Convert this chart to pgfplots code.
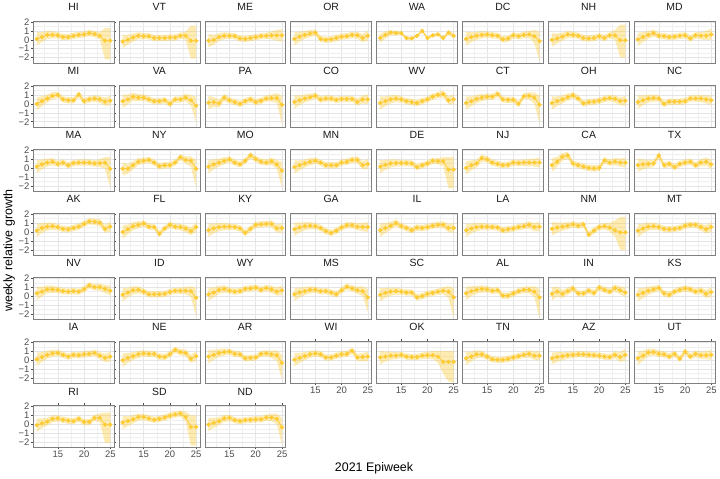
\documentclass[border=0pt]{standalone}
\usepackage{fontspec}
\setmainfont{Liberation Sans}
\usepackage{pgfplots}
\usepackage{pgfplotstable}
\pgfplotsset{compat=1.18}
\usepgfplotslibrary{fillbetween}
\definecolor{gold}{HTML}{FDCB34}
\pgfplotsset{
 panel/.style={scale only axis, width=81bp, height=42bp, anchor=north west,
  xmin=10.3, xmax=25.7, ymin=-2.6, ymax=2.1,
  xtick={15,20,25}, ytick={-2,-1,0,1,2},
  minor xtick={12.5,17.5,22.5}, minor ytick={-1.5,-0.5,0.5,1.5},
  xticklabels={}, yticklabels={},
  grid=both,
  major grid style={draw=black!10, line width=0.5bp},
  minor grid style={draw=black!6, line width=0.3bp},
  axis line style={draw=black!50, line width=0.6bp},
  tick align=outside, major tick length=2bp, minor tick length=0pt,
  xtick style={draw=none}, ytick style={draw=none},
  title style={at={(0.5,1)}, anchor=base, yshift=4.5bp, font=\fontsize{10.5}{11}\selectfont, text=black!90},
  tick label style={font=\fontsize{9.5}{9.5}\selectfont, text=black!70},
  yticklabel style={inner sep=1.5bp},
  xticklabel style={inner sep=1.5bp},
  clip=true},
 xl/.style={xticklabels={15,20,25}, xtick style={draw=black!70, line width=0.5bp}},
 yl/.style={yticklabels={−2,−1,0,1,2}, ytick style={draw=black!70, line width=0.5bp}},
}
\newcommand{\panel}[5]{%
 \pgfmathsetmacro\px{32+86*#1}\pgfmathsetmacro\py{458-64.17*#2}%
 \begin{axis}[panel, at={(\px bp,\py bp)}, title={#3}, #5]
  \addplot[name path=L, draw=none, forget plot] table[x=x,y=lo]{#4};
  \addplot[name path=H, draw=none, forget plot] table[x=x,y=hi]{#4};
  \addplot[fill=gold, fill opacity=0.38, draw=none] fill between[of=H and L];
  \addplot[color=gold, line width=0.8bp, mark=*, mark size=1.7bp, mark options={fill=gold, draw=gold}] table[x=x,y=y]{#4};
 \end{axis}}
% ---------------- data: x, mean, lower, upper ----------------
\pgfplotstableread[row sep=\\]{x y lo hi\\11 0.1 -0.65 0.85\\12 0.3 -0.25 0.85\\13 0.55 0.1 1.0\\14 0.55 0.15 0.95\\15 0.5 0.15 0.85\\16 0.3 -0.05 0.65\\17 0.3 -0.05 0.65\\18 0.45 0.1 0.8\\19 0.55 0.2 0.9\\20 0.6 0.25 0.95\\21 0.75 0.4 1.1\\22 0.65 0.3 1.0\\23 0.45 0.05 0.85\\24 -0.1 -2.2 1.3\\25 -0.1 -2.2 1.3\\}\tHI
\pgfplotstableread[row sep=\\]{x y lo hi\\11 -0.2 -0.95 0.55\\12 0 -0.55 0.55\\13 0.25 -0.2 0.7\\14 0.45 0.05 0.85\\15 0.4 0.05 0.75\\16 0.4 0.05 0.75\\17 0.2 -0.15 0.55\\18 0.2 -0.15 0.55\\19 0.2 -0.15 0.55\\20 0.25 -0.1 0.6\\21 0.25 -0.1 0.6\\22 0.45 0.1 0.8\\23 0.45 0.0 0.9\\24 -0.1 -2.1 1.6\\25 -0.1 -2.1 1.6\\}\tVT
\pgfplotstableread[row sep=\\]{x y lo hi\\11 -0.1 -0.85 0.65\\12 0 -0.55 0.55\\13 0.3 -0.15 0.75\\14 0.45 0.05 0.85\\15 0.45 0.1 0.8\\16 0.4 0.05 0.75\\17 0.15 -0.2 0.5\\18 0.1 -0.25 0.45\\19 0.2 -0.15 0.55\\20 0.3 -0.05 0.65\\21 0.4 0.05 0.75\\22 0.45 0.1 0.8\\23 0.5 0.05 0.95\\24 0.5 -0.1 1.1\\25 0.5 -0.2 1.2\\}\tME
\pgfplotstableread[row sep=\\]{x y lo hi\\11 0.1 -0.65 0.85\\12 0.35 -0.2 0.9\\13 0.55 0.1 1.0\\14 0.7 0.3 1.1\\15 0.8 0.45 1.15\\16 0.1 -0.25 0.45\\17 0.0 -0.35 0.35\\18 0.05 -0.3 0.4\\19 0.2 -0.15 0.55\\20 0.35 0.0 0.7\\21 0.4 0.05 0.75\\22 0.55 0.2 0.9\\23 0.5 0.1 0.9\\24 0.2 -0.25 0.65\\25 0.45 -0.1 1.0\\}\tOR
\pgfplotstableread[row sep=\\]{x y lo hi\\11 0.2 -0.3 0.7\\12 0.55 0.15 0.95\\13 0.8 0.5 1.1\\14 0.75 0.5 1.0\\15 0.75 0.55 0.95\\16 0.2 0.0 0.4\\17 0.15 -0.05 0.35\\18 0.45 0.25 0.65\\19 1.0 0.8 1.2\\20 0.2 0.0 0.4\\21 0.5 0.3 0.7\\22 0.6 0.4 0.8\\23 0.2 0.0 0.4\\24 0.8 0.55 1.05\\25 0.45 0.15 0.75\\}\tWA
\pgfplotstableread[row sep=\\]{x y lo hi\\11 0.1 -0.65 0.85\\12 0.3 -0.25 0.85\\13 0.45 0.0 0.9\\14 0.55 0.15 0.95\\15 0.6 0.25 0.95\\16 0.5 0.15 0.85\\17 0.45 0.1 0.8\\18 0.05 -0.3 0.4\\19 0.15 -0.2 0.5\\20 0.5 0.15 0.85\\21 0.4 0.05 0.75\\22 0.55 0.2 0.9\\23 0.6 0.2 1.0\\24 0.4 -0.4 1.1\\25 -0.15 -2.4 0.9\\}\tDC
\pgfplotstableread[row sep=\\]{x y lo hi\\11 0 -0.75 0.75\\12 0.15 -0.4 0.7\\13 0.35 -0.1 0.8\\14 0.6 0.2 1.0\\15 0.55 0.2 0.9\\16 0.45 0.1 0.8\\17 0.2 -0.15 0.55\\18 0.15 -0.2 0.5\\19 0.2 -0.15 0.55\\20 0.4 0.05 0.75\\21 0.2 -0.15 0.55\\22 0.5 0.15 0.85\\23 0.5 0.0 1.1\\24 -0.05 -2.0 1.7\\25 -0.05 -2.0 1.7\\}\tNH
\pgfplotstableread[row sep=\\]{x y lo hi\\11 0.05 -0.7 0.8\\12 0.3 -0.25 0.85\\13 0.55 0.1 1.0\\14 0.75 0.35 1.15\\15 0.45 0.1 0.8\\16 0.4 0.05 0.75\\17 0.3 -0.05 0.65\\18 0.35 0.0 0.7\\19 0.45 0.1 0.8\\20 0.5 0.15 0.85\\21 0.15 -0.2 0.5\\22 0.5 0.15 0.85\\23 0.45 0.05 0.85\\24 0.45 -0.05 1.0\\25 0.6 0.0 1.25\\}\tMD
\pgfplotstableread[row sep=\\]{x y lo hi\\11 0 -0.75 0.75\\12 0.3 -0.25 0.85\\13 0.6 0.15 1.05\\14 0.9 0.5 1.3\\15 1.0 0.65 1.35\\16 0.5 0.15 0.85\\17 0.4 0.05 0.75\\18 0.4 0.05 0.75\\19 1.05 0.7 1.4\\20 0.3 -0.05 0.65\\21 0.5 0.15 0.85\\22 0.6 0.25 0.95\\23 0.5 0.1 0.9\\24 0.25 -0.2 0.7\\25 0.35 -0.2 0.9\\}\tMI
\pgfplotstableread[row sep=\\]{x y lo hi\\11 0.3 -0.45 1.05\\12 0.5 -0.05 1.05\\13 0.8 0.35 1.25\\14 0.7 0.3 1.1\\15 0.7 0.35 1.05\\16 0.5 0.15 0.85\\17 0.3 -0.05 0.65\\18 0.3 -0.05 0.65\\19 0.4 0.05 0.75\\20 0.0 -0.35 0.35\\21 0.5 0.15 0.85\\22 0.5 0.15 0.85\\23 0.7 0.3 1.1\\24 0.4 -0.2 1.0\\25 -0.2 -2.1 0.8\\}\tVA
\pgfplotstableread[row sep=\\]{x y lo hi\\11 0.15 -0.6 0.9\\12 0.2 -0.35 0.75\\13 0.05 -0.4 0.5\\14 0.7 0.3 1.1\\15 0.4 0.05 0.75\\16 0.2 -0.15 0.55\\17 0.0 -0.35 0.35\\18 0.3 -0.05 0.65\\19 0.5 0.15 0.85\\20 0.2 -0.15 0.55\\21 0.35 0.0 0.7\\22 0.6 0.25 0.95\\23 0.65 0.25 1.05\\24 0.65 0.1 1.2\\25 -0.1 -2.3 0.9\\}\tPA
\pgfplotstableread[row sep=\\]{x y lo hi\\11 0.2 -0.55 0.95\\12 0.4 -0.15 0.95\\13 0.6 0.15 1.05\\14 0.75 0.35 1.15\\15 0.9 0.55 1.25\\16 0.5 0.15 0.85\\17 0.6 0.25 0.95\\18 0.6 0.25 0.95\\19 0.45 0.1 0.8\\20 0.55 0.2 0.9\\21 0.55 0.2 0.9\\22 0.55 0.2 0.9\\23 0.2 -0.2 0.6\\24 0.5 0.05 0.95\\25 0.5 -0.05 1.05\\}\tCO
\pgfplotstableread[row sep=\\]{x y lo hi\\11 0.1 -0.65 0.85\\12 0.3 -0.25 0.85\\13 0.5 0.05 0.95\\14 0.6 0.2 1.0\\15 0.5 0.15 0.85\\16 0.3 -0.05 0.65\\17 0.2 -0.15 0.55\\18 0.1 -0.25 0.45\\19 0.3 -0.05 0.65\\20 0.5 0.15 0.85\\21 0.8 0.45 1.15\\22 1.0 0.65 1.35\\23 1.1 0.7 1.5\\24 0.4 -0.05 0.85\\25 0.5 -0.05 1.05\\}\tWV
\pgfplotstableread[row sep=\\]{x y lo hi\\11 0.1 -0.65 0.85\\12 0.3 -0.25 0.85\\13 0.55 0.1 1.0\\14 0.7 0.3 1.1\\15 0.8 0.45 1.15\\16 0.8 0.45 1.15\\17 1.1 0.75 1.45\\18 0.5 0.15 0.85\\19 0.45 0.1 0.8\\20 0.45 0.1 0.8\\21 0.0 -0.35 0.35\\22 0.85 0.5 1.2\\23 0.9 0.5 1.3\\24 0.7 0.0 1.3\\25 -0.1 -2.2 0.9\\}\tCT
\pgfplotstableread[row sep=\\]{x y lo hi\\11 0.1 -0.65 0.85\\12 0.3 -0.25 0.85\\13 0.5 0.05 0.95\\14 0.75 0.35 1.15\\15 0.95 0.6 1.3\\16 0.6 0.25 0.95\\17 0.05 -0.3 0.4\\18 0.2 -0.15 0.55\\19 0.25 -0.1 0.6\\20 0.35 0.0 0.7\\21 0.55 0.2 0.9\\22 0.65 0.3 1.0\\23 0.55 0.15 0.95\\24 0.3 -0.15 0.75\\25 0.35 -0.2 0.9\\}\tOH
\pgfplotstableread[row sep=\\]{x y lo hi\\11 0.2 -0.55 0.95\\12 0.4 -0.15 0.95\\13 0.6 0.15 1.05\\14 0.65 0.25 1.05\\15 0.6 0.25 0.95\\16 0.0 -0.35 0.35\\17 0.25 -0.1 0.6\\18 0.25 -0.1 0.6\\19 0.25 -0.1 0.6\\20 0.3 -0.05 0.65\\21 0.6 0.25 0.95\\22 0.6 0.25 0.95\\23 0.6 0.2 1.0\\24 0.5 0.05 0.95\\25 0.4 -0.15 0.95\\}\tNC
\pgfplotstableread[row sep=\\]{x y lo hi\\11 0.15 -0.6 0.9\\12 0.4 -0.15 0.95\\13 0.6 0.15 1.05\\14 0.7 0.3 1.1\\15 0.45 0.1 0.8\\16 0.6 0.25 0.95\\17 0.3 -0.05 0.65\\18 0.55 0.2 0.9\\19 0.6 0.25 0.95\\20 0.6 0.25 0.95\\21 0.6 0.25 0.95\\22 0.5 0.15 0.85\\23 0.55 0.1 1.0\\24 0.6 -0.1 1.2\\25 -0.1 -2.2 1.2\\}\tMA
\pgfplotstableread[row sep=\\]{x y lo hi\\11 -0.1 -0.85 0.65\\12 -0.1 -0.65 0.45\\13 0.3 -0.15 0.75\\14 0.7 0.3 1.1\\15 0.8 0.45 1.15\\16 0.9 0.55 1.25\\17 0.6 0.25 0.95\\18 0.2 -0.15 0.55\\19 0.3 -0.05 0.65\\20 0.3 -0.05 0.65\\21 0.6 0.25 0.95\\22 1.2 0.85 1.55\\23 0.9 0.5 1.3\\24 0.8 0.1 1.3\\25 -0.1 -2.2 0.9\\}\tNY
\pgfplotstableread[row sep=\\]{x y lo hi\\11 0.15 -0.6 0.9\\12 0.4 -0.15 0.95\\13 0.6 0.15 1.05\\14 0.8 0.4 1.2\\15 0.95 0.6 1.3\\16 0.6 0.25 0.95\\17 0.4 0.05 0.75\\18 0.8 0.45 1.15\\19 1.4 1.05 1.75\\20 1.0 0.65 1.35\\21 0.7 0.35 1.05\\22 0.6 0.25 0.95\\23 0.75 0.35 1.15\\24 0.4 -0.1 0.9\\25 -0.3 -2.2 0.7\\}\tMO
\pgfplotstableread[row sep=\\]{x y lo hi\\11 0.1 -0.65 0.85\\12 0.3 -0.25 0.85\\13 0.5 0.05 0.95\\14 0.7 0.3 1.1\\15 0.8 0.45 1.15\\16 0.6 0.25 0.95\\17 0.3 -0.05 0.65\\18 0.3 -0.05 0.65\\19 0.3 -0.05 0.65\\20 0.6 0.25 0.95\\21 0.7 0.35 1.05\\22 0.9 0.55 1.25\\23 0.9 0.5 1.3\\24 0.3 -0.15 0.75\\25 0.45 -0.1 1.0\\}\tMN
\pgfplotstableread[row sep=\\]{x y lo hi\\11 0.15 -0.6 0.9\\12 0.35 -0.2 0.9\\13 0.5 0.05 0.95\\14 0.55 0.15 0.95\\15 0.55 0.2 0.9\\16 0.55 0.2 0.9\\17 0.5 0.15 0.85\\18 0.1 -0.25 0.45\\19 0.3 -0.05 0.65\\20 0.5 0.15 0.85\\21 0.8 0.45 1.15\\22 0.75 0.4 1.1\\23 0.75 0.2 1.2\\24 -0.2 -2.3 1.2\\25 -0.2 -2.3 1.2\\}\tDE
\pgfplotstableread[row sep=\\]{x y lo hi\\11 0.0 -0.75 0.75\\12 0.3 -0.25 0.85\\13 0.5 0.05 0.95\\14 1.1 0.7 1.5\\15 0.95 0.6 1.3\\16 0.6 0.25 0.95\\17 0.45 0.1 0.8\\18 0.3 -0.05 0.65\\19 0.35 0.0 0.7\\20 0.6 0.25 0.95\\21 0.55 0.2 0.9\\22 0.6 0.25 0.95\\23 0.6 0.2 1.0\\24 0.6 0.15 1.05\\25 0.6 0.05 1.15\\}\tNJ
\pgfplotstableread[row sep=\\]{x y lo hi\\11 0.3 -0.45 1.05\\12 0.7 0.15 1.25\\13 1.25 0.8 1.7\\14 1.4 1.0 1.8\\15 0.5 0.15 0.85\\16 0.3 -0.05 0.65\\17 0.15 -0.2 0.5\\18 0.0 -0.35 0.35\\19 -0.05 -0.4 0.3\\20 0.0 -0.35 0.35\\21 0.85 0.5 1.2\\22 0.6 0.25 0.95\\23 0.7 0.3 1.1\\24 0.6 0.15 1.05\\25 0.6 0.05 1.15\\}\tCA
\pgfplotstableread[row sep=\\]{x y lo hi\\11 0.3 -0.45 1.05\\12 0.4 -0.15 0.95\\13 0.45 0.0 0.9\\14 0.5 0.1 0.9\\15 1.4 1.05 1.75\\16 0.3 -0.05 0.65\\17 0.45 0.1 0.8\\18 0.1 -0.25 0.45\\19 0.45 0.1 0.8\\20 0.6 0.25 0.95\\21 0.7 0.35 1.05\\22 0.3 -0.05 0.65\\23 0.6 0.2 1.0\\24 0.7 0.25 1.15\\25 0.4 -0.15 0.95\\}\tTX
\pgfplotstableread[row sep=\\]{x y lo hi\\11 0.15 -0.6 0.9\\12 0.45 -0.1 1.0\\13 0.6 0.15 1.05\\14 0.65 0.25 1.05\\15 0.55 0.2 0.9\\16 0.35 0.0 0.7\\17 0.3 -0.05 0.65\\18 0.45 0.1 0.8\\19 0.6 0.25 0.95\\20 0.9 0.55 1.25\\21 1.2 0.85 1.55\\22 1.15 0.8 1.5\\23 1.05 0.65 1.45\\24 0.35 -0.1 0.8\\25 0.6 0.05 1.15\\}\tAK
\pgfplotstableread[row sep=\\]{x y lo hi\\11 0.0 -0.75 0.75\\12 0.3 -0.25 0.85\\13 0.65 0.2 1.1\\14 0.8 0.4 1.2\\15 0.95 0.6 1.3\\16 0.6 0.25 0.95\\17 0.55 0.2 0.9\\18 -0.2 -0.55 0.15\\19 0.4 0.05 0.75\\20 0.8 0.45 1.15\\21 0.6 0.25 0.95\\22 0.55 0.2 0.9\\23 0.4 0.0 0.8\\24 0.1 -0.35 0.55\\25 0.55 0.0 1.1\\}\tFL
\pgfplotstableread[row sep=\\]{x y lo hi\\11 0.2 -0.55 0.95\\12 0.4 -0.15 0.95\\13 0.55 0.1 1.0\\14 0.6 0.2 1.0\\15 0.6 0.25 0.95\\16 0.55 0.2 0.9\\17 0.4 0.05 0.75\\18 -0.1 -0.45 0.25\\19 0.35 0.0 0.7\\20 0.8 0.45 1.15\\21 0.85 0.5 1.2\\22 0.9 0.55 1.25\\23 0.9 0.5 1.3\\24 0.4 -0.05 0.85\\25 0.45 -0.1 1.0\\}\tKY
\pgfplotstableread[row sep=\\]{x y lo hi\\11 0.3 -0.45 1.05\\12 0.5 -0.05 1.05\\13 0.65 0.2 1.1\\14 0.7 0.3 1.1\\15 0.65 0.3 1.0\\16 0.45 0.1 0.8\\17 0.1 -0.25 0.45\\18 -0.1 -0.45 0.25\\19 0.15 -0.2 0.5\\20 0.5 0.15 0.85\\21 0.75 0.4 1.1\\22 0.75 0.4 1.1\\23 0.6 0.2 1.0\\24 0.55 0.1 1.0\\25 0.55 0.0 1.1\\}\tGA
\pgfplotstableread[row sep=\\]{x y lo hi\\11 0.2 -0.55 0.95\\12 0.45 -0.1 1.0\\13 0.7 0.25 1.15\\14 1.0 0.6 1.4\\15 0.65 0.3 1.0\\16 0.45 0.1 0.8\\17 0.2 -0.15 0.55\\18 0.5 0.15 0.85\\19 0.45 0.1 0.8\\20 0.55 0.2 0.9\\21 0.7 0.35 1.05\\22 0.8 0.45 1.15\\23 0.8 0.4 1.2\\24 0.45 0.0 0.9\\25 0.45 -0.1 1.0\\}\tIL
\pgfplotstableread[row sep=\\]{x y lo hi\\11 0.2 -0.55 0.95\\12 0.4 -0.15 0.95\\13 0.55 0.1 1.0\\14 0.6 0.2 1.0\\15 0.6 0.25 0.95\\16 0.55 0.2 0.9\\17 0.5 0.15 0.85\\18 0.2 -0.15 0.55\\19 0.3 -0.05 0.65\\20 0.4 0.05 0.75\\21 0.55 0.2 0.9\\22 0.65 0.3 1.0\\23 0.8 0.4 1.2\\24 0.55 0.1 1.0\\25 0.6 0.05 1.15\\}\tLA
\pgfplotstableread[row sep=\\]{x y lo hi\\11 0.35 -0.4 1.1\\12 0.5 -0.05 1.05\\13 0.6 0.15 1.05\\14 0.7 0.3 1.1\\15 0.85 0.5 1.2\\16 0.7 0.35 1.05\\17 0.85 0.5 1.2\\18 -0.3 -0.65 0.05\\19 0.15 -0.2 0.5\\20 0.55 0.2 0.9\\21 0.65 0.3 1.0\\22 0.5 0.05 1.0\\23 0.2 -0.5 1.3\\24 -0.05 -2.0 1.7\\25 -0.05 -2.0 1.7\\}\tNM
\pgfplotstableread[row sep=\\]{x y lo hi\\11 0.15 -0.6 0.9\\12 0.4 -0.15 0.95\\13 0.6 0.15 1.05\\14 0.65 0.25 1.05\\15 0.55 0.2 0.9\\16 0.35 0.0 0.7\\17 0.3 -0.05 0.65\\18 0.35 0.0 0.7\\19 0.45 0.1 0.8\\20 0.7 0.35 1.05\\21 0.8 0.45 1.15\\22 0.8 0.45 1.15\\23 0.55 0.15 0.95\\24 0.3 -0.15 0.75\\25 0.55 0.0 1.1\\}\tMT
\pgfplotstableread[row sep=\\]{x y lo hi\\11 0.3 -0.45 1.05\\12 0.5 -0.05 1.05\\13 0.75 0.3 1.2\\14 0.75 0.35 1.15\\15 0.7 0.35 1.05\\16 0.55 0.2 0.9\\17 0.5 0.15 0.85\\18 0.55 0.2 0.9\\19 0.5 0.15 0.85\\20 0.75 0.4 1.1\\21 1.2 0.85 1.55\\22 1.0 0.65 1.35\\23 1.0 0.6 1.4\\24 0.8 0.35 1.25\\25 0.6 0.05 1.15\\}\tNV
\pgfplotstableread[row sep=\\]{x y lo hi\\11 0.15 -0.6 0.9\\12 0.4 -0.15 0.95\\13 0.65 0.2 1.1\\14 0.7 0.3 1.1\\15 0.5 0.15 0.85\\16 0.2 -0.15 0.55\\17 0.2 -0.15 0.55\\18 0.2 -0.15 0.55\\19 0.25 -0.1 0.6\\20 0.45 0.1 0.8\\21 0.6 0.25 0.95\\22 0.6 0.25 0.95\\23 0.6 0.2 1.0\\24 0.55 -0.1 1.1\\25 -0.2 -2.3 0.9\\}\tID
\pgfplotstableread[row sep=\\]{x y lo hi\\11 0.2 -0.55 0.95\\12 0.4 -0.15 0.95\\13 0.7 0.25 1.15\\14 0.8 0.4 1.2\\15 0.6 0.25 0.95\\16 0.5 0.15 0.85\\17 0.55 0.2 0.9\\18 0.8 0.45 1.15\\19 0.85 0.5 1.2\\20 0.95 0.6 1.3\\21 0.7 0.35 1.05\\22 0.9 0.55 1.25\\23 0.75 0.35 1.15\\24 0.5 0.05 0.95\\25 0.65 0.1 1.2\\}\tWY
\pgfplotstableread[row sep=\\]{x y lo hi\\11 0.2 -0.55 0.95\\12 0.4 -0.15 0.95\\13 0.55 0.1 1.0\\14 0.7 0.3 1.1\\15 0.7 0.35 1.05\\16 0.55 0.2 0.9\\17 0.55 0.2 0.9\\18 0.4 0.05 0.75\\19 0.2 -0.15 0.55\\20 0.65 0.3 1.0\\21 1.05 0.7 1.4\\22 0.85 0.5 1.2\\23 0.65 0.25 1.05\\24 0.55 0.0 1.1\\25 -0.15 -1.8 0.8\\}\tMS
\pgfplotstableread[row sep=\\]{x y lo hi\\11 0.15 -0.6 0.9\\12 0.35 -0.2 0.9\\13 0.5 0.05 0.95\\14 0.55 0.15 0.95\\15 0.5 0.15 0.85\\16 0.4 0.05 0.75\\17 0.4 0.05 0.75\\18 -0.15 -0.5 0.2\\19 0.0 -0.35 0.35\\20 0.25 -0.1 0.6\\21 0.35 0.0 0.7\\22 0.5 0.15 0.85\\23 0.6 0.2 1.0\\24 0.5 -0.2 1.1\\25 -0.15 -2.5 0.9\\}\tSC
\pgfplotstableread[row sep=\\]{x y lo hi\\11 0.3 -0.45 1.05\\12 0.55 0.0 1.1\\13 0.7 0.25 1.15\\14 0.8 0.4 1.2\\15 0.75 0.4 1.1\\16 0.6 0.25 0.95\\17 0.65 0.3 1.0\\18 0.05 -0.3 0.4\\19 0.05 -0.3 0.4\\20 0.3 -0.05 0.65\\21 0.55 0.2 0.9\\22 0.7 0.35 1.05\\23 0.7 0.3 1.1\\24 0.5 -0.1 1.1\\25 -0.15 -2.5 0.8\\}\tAL
\pgfplotstableread[row sep=\\]{x y lo hi\\11 0.25 -0.5 1.0\\12 0.5 -0.05 1.05\\13 0.25 -0.2 0.7\\14 0.55 0.15 0.95\\15 0.85 0.5 1.2\\16 0.3 -0.05 0.65\\17 0.3 -0.05 0.65\\18 0.6 0.25 0.95\\19 0.35 0.0 0.7\\20 0.95 0.6 1.3\\21 0.7 0.35 1.05\\22 0.5 0.15 0.85\\23 0.9 0.5 1.3\\24 0.65 0.2 1.1\\25 0.4 -0.15 0.95\\}\tIN
\pgfplotstableread[row sep=\\]{x y lo hi\\11 0.15 -0.6 0.9\\12 0.35 -0.2 0.9\\13 0.6 0.15 1.05\\14 0.75 0.35 1.15\\15 0.9 0.55 1.25\\16 0.3 -0.05 0.65\\17 0.15 -0.2 0.5\\18 0.5 0.15 0.85\\19 0.7 0.35 1.05\\20 0.85 0.5 1.2\\21 0.75 0.4 1.1\\22 0.5 0.15 0.85\\23 0.6 0.2 1.0\\24 0.25 -0.2 0.7\\25 0.45 -0.1 1.0\\}\tKS
\pgfplotstableread[row sep=\\]{x y lo hi\\11 0.1 -0.65 0.85\\12 0.35 -0.2 0.9\\13 0.6 0.15 1.05\\14 0.75 0.35 1.15\\15 0.8 0.45 1.15\\16 0.6 0.25 0.95\\17 0.4 0.05 0.75\\18 0.6 0.25 0.95\\19 0.55 0.2 0.9\\20 0.65 0.3 1.0\\21 0.7 0.35 1.05\\22 0.8 0.45 1.15\\23 0.5 0.1 0.9\\24 0.25 -0.2 0.7\\25 0.4 -0.15 0.95\\}\tIA
\pgfplotstableread[row sep=\\]{x y lo hi\\11 0.0 -0.75 0.75\\12 0.25 -0.3 0.8\\13 0.45 0.0 0.9\\14 0.65 0.25 1.05\\15 0.75 0.4 1.1\\16 0.7 0.35 1.05\\17 0.7 0.35 1.05\\18 0.4 0.05 0.75\\19 0.35 0.0 0.7\\20 0.65 0.3 1.0\\21 1.15 0.8 1.5\\22 0.9 0.55 1.25\\23 0.8 0.4 1.2\\24 0.15 -0.3 0.6\\25 0.45 -0.1 1.0\\}\tNE
\pgfplotstableread[row sep=\\]{x y lo hi\\11 0.4 -0.35 1.15\\12 0.6 0.05 1.15\\13 0.8 0.35 1.25\\14 0.9 0.5 1.3\\15 0.95 0.6 1.3\\16 0.7 0.35 1.05\\17 0.65 0.3 1.0\\18 0.2 -0.15 0.55\\19 0.25 -0.1 0.6\\20 0.3 -0.05 0.65\\21 0.7 0.35 1.05\\22 0.75 0.4 1.1\\23 0.65 0.25 1.05\\24 0.55 -0.1 1.1\\25 -0.3 -2.2 0.6\\}\tAR
\pgfplotstableread[row sep=\\]{x y lo hi\\11 0.05 -0.7 0.8\\12 0.25 -0.3 0.8\\13 0.45 0.0 0.9\\14 0.65 0.25 1.05\\15 0.75 0.4 1.1\\16 0.65 0.3 1.0\\17 0.3 -0.05 0.65\\18 0.3 -0.05 0.65\\19 0.5 0.15 0.85\\20 0.65 0.3 1.0\\21 0.7 0.35 1.05\\22 1.05 0.7 1.4\\23 0.3 -0.1 0.7\\24 0.35 -0.1 0.8\\25 0.4 -0.15 0.95\\}\tWI
\pgfplotstableread[row sep=\\]{x y lo hi\\11 0.3 -0.45 1.05\\12 0.4 -0.15 0.95\\13 0.5 0.05 0.95\\14 0.5 0.1 0.9\\15 0.6 0.25 0.95\\16 0.4 0.05 0.75\\17 0.35 0.0 0.7\\18 0.35 0.0 0.7\\19 0.5 0.15 0.85\\20 0.55 0.15 0.95\\21 0.55 0.1 1.0\\22 0.4 -0.3 1.0\\23 -0.2 -1.5 1.0\\24 -0.2 -2.4 1.0\\25 -0.2 -2.5 1.0\\}\tOK
\pgfplotstableread[row sep=\\]{x y lo hi\\11 0.2 -0.55 0.95\\12 0.4 -0.15 0.95\\13 0.65 0.2 1.1\\14 0.65 0.25 1.05\\15 0.4 0.05 0.75\\16 0.1 -0.25 0.45\\17 0.05 -0.3 0.4\\18 0.05 -0.3 0.4\\19 0.15 -0.2 0.5\\20 0.3 -0.05 0.65\\21 0.45 0.1 0.8\\22 0.6 0.25 0.95\\23 0.7 0.3 1.1\\24 0.5 0.05 0.95\\25 0.5 -0.05 1.05\\}\tTN
\pgfplotstableread[row sep=\\]{x y lo hi\\11 0.2 -0.45 0.85\\12 0.35 -0.2 0.9\\13 0.45 0.0 0.9\\14 0.55 0.15 0.95\\15 0.6 0.25 0.95\\16 0.65 0.3 1.0\\17 0.65 0.3 1.0\\18 0.6 0.25 0.95\\19 0.55 0.2 0.9\\20 0.5 0.15 0.85\\21 0.4 0.05 0.75\\22 0.35 0.0 0.7\\23 0.6 0.2 1.0\\24 0.35 -0.2 0.9\\25 0.6 -0.05 1.3\\}\tAZ
\pgfplotstableread[row sep=\\]{x y lo hi\\11 0.2 -0.55 0.95\\12 0.5 -0.05 1.05\\13 0.85 0.4 1.3\\14 0.9 0.5 1.3\\15 0.7 0.35 1.05\\16 0.65 0.3 1.0\\17 0.4 0.05 0.75\\18 0.7 0.35 1.05\\19 0.15 -0.2 0.5\\20 0.95 0.6 1.3\\21 0.4 0.05 0.75\\22 0.7 0.35 1.05\\23 0.55 0.15 0.95\\24 0.55 0.1 1.0\\25 0.6 0.05 1.15\\}\tUT
\pgfplotstableread[row sep=\\]{x y lo hi\\11 -0.1 -0.85 0.65\\12 0.1 -0.45 0.65\\13 0.3 -0.15 0.75\\14 0.6 0.2 1.0\\15 0.65 0.3 1.0\\16 0.5 0.15 0.85\\17 0.4 0.05 0.75\\18 0.35 0.0 0.7\\19 0.6 0.25 0.95\\20 0.25 -0.1 0.6\\21 0.25 -0.1 0.6\\22 0.7 0.35 1.05\\23 0.7 0.2 1.2\\24 -0.05 -2.1 1.3\\25 -0.05 -2.1 1.3\\}\tRI
\pgfplotstableread[row sep=\\]{x y lo hi\\11 0.2 -0.55 0.95\\12 0.35 -0.2 0.9\\13 0.55 0.1 1.0\\14 0.8 0.4 1.2\\15 0.8 0.45 1.15\\16 0.65 0.3 1.0\\17 0.5 0.15 0.85\\18 0.6 0.25 0.95\\19 0.75 0.4 1.1\\20 0.95 0.6 1.3\\21 1.1 0.75 1.45\\22 1.2 0.85 1.55\\23 0.8 0.3 1.4\\24 -0.3 -2.4 1.0\\25 -0.3 -2.4 1.0\\}\tSD
\pgfplotstableread[row sep=\\]{x y lo hi\\11 -0.05 -0.8 0.7\\12 0.15 -0.4 0.7\\13 0.35 -0.1 0.8\\14 0.65 0.25 1.05\\15 0.7 0.35 1.05\\16 0.45 0.1 0.8\\17 0.35 0.0 0.7\\18 0.45 0.1 0.8\\19 0.5 0.15 0.85\\20 0.55 0.2 0.9\\21 0.55 0.2 0.9\\22 0.75 0.4 1.1\\23 0.75 0.35 1.15\\24 0.6 0.0 1.2\\25 -0.35 -2.3 0.7\\}\tND
\begin{document}
\begin{tikzpicture}
\panel{0}{0}{HI}{\tHI}{yl}
\panel{1}{0}{VT}{\tVT}{}
\panel{2}{0}{ME}{\tME}{}
\panel{3}{0}{OR}{\tOR}{}
\panel{4}{0}{WA}{\tWA}{}
\panel{5}{0}{DC}{\tDC}{}
\panel{6}{0}{NH}{\tNH}{}
\panel{7}{0}{MD}{\tMD}{}
\panel{0}{1}{MI}{\tMI}{yl}
\panel{1}{1}{VA}{\tVA}{}
\panel{2}{1}{PA}{\tPA}{}
\panel{3}{1}{CO}{\tCO}{}
\panel{4}{1}{WV}{\tWV}{}
\panel{5}{1}{CT}{\tCT}{}
\panel{6}{1}{OH}{\tOH}{}
\panel{7}{1}{NC}{\tNC}{}
\panel{0}{2}{MA}{\tMA}{yl}
\panel{1}{2}{NY}{\tNY}{}
\panel{2}{2}{MO}{\tMO}{}
\panel{3}{2}{MN}{\tMN}{}
\panel{4}{2}{DE}{\tDE}{}
\panel{5}{2}{NJ}{\tNJ}{}
\panel{6}{2}{CA}{\tCA}{}
\panel{7}{2}{TX}{\tTX}{}
\panel{0}{3}{AK}{\tAK}{yl}
\panel{1}{3}{FL}{\tFL}{}
\panel{2}{3}{KY}{\tKY}{}
\panel{3}{3}{GA}{\tGA}{}
\panel{4}{3}{IL}{\tIL}{}
\panel{5}{3}{LA}{\tLA}{}
\panel{6}{3}{NM}{\tNM}{}
\panel{7}{3}{MT}{\tMT}{}
\panel{0}{4}{NV}{\tNV}{yl}
\panel{1}{4}{ID}{\tID}{}
\panel{2}{4}{WY}{\tWY}{}
\panel{3}{4}{MS}{\tMS}{}
\panel{4}{4}{SC}{\tSC}{}
\panel{5}{4}{AL}{\tAL}{}
\panel{6}{4}{IN}{\tIN}{}
\panel{7}{4}{KS}{\tKS}{}
\panel{0}{5}{IA}{\tIA}{yl}
\panel{1}{5}{NE}{\tNE}{}
\panel{2}{5}{AR}{\tAR}{}
\panel{3}{5}{WI}{\tWI}{xl}
\panel{4}{5}{OK}{\tOK}{xl}
\panel{5}{5}{TN}{\tTN}{xl}
\panel{6}{5}{AZ}{\tAZ}{xl}
\panel{7}{5}{UT}{\tUT}{xl}
\panel{0}{6}{RI}{\tRI}{yl,xl}
\panel{1}{6}{SD}{\tSD}{xl}
\panel{2}{6}{ND}{\tND}{xl}
\node[font=\fontsize{12.5}{13}\selectfont] at (373.5bp,10bp) {2021 Epiweek};
\node[font=\fontsize{12.5}{13}\selectfont, rotate=90] at (8bp,228bp) {weekly relative growth};
\path (0,0) rectangle (720bp,473bp);
\end{tikzpicture}
\end{document}
